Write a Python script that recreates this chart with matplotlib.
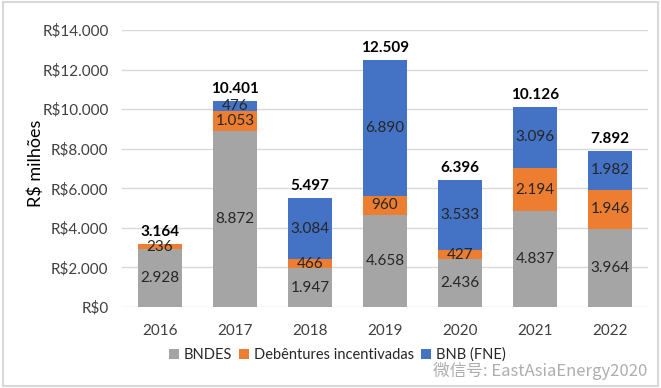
import matplotlib.pyplot as plt
from matplotlib.patches import Rectangle

anos = ["2016", "2017", "2018", "2019", "2020", "2021", "2022"]
bndes = [2928, 8872, 1947, 4658, 2436, 4837, 3964]
debentures = [236, 1053, 466, 960, 427, 2194, 1946]
bnb = [0, 476, 3084, 6890, 3533, 3096, 1982]
totais = [3164, 10401, 5497, 12509, 6396, 10126, 7892]
yticks = [0, 2000, 4000, 6000, 8000, 10000, 12000, 14000]

cinza = "#A5A5A5"
laranja = "#ED7D31"
azul = "#4472C4"

plt.rcParams["font.family"] = ["Lato", "DejaVu Sans"]


def fmt(v):
    return f"{v:,}".replace(",", ".")


fig = plt.figure(figsize=(6.61, 3.88), dpi=100)
ax = fig.add_axes([0.1853, 0.2088, 0.7943, 0.7139])

x = range(len(anos))
w = 0.58
base2 = bndes
base3 = [a + b for a, b in zip(bndes, debentures)]
b1 = ax.bar(x, bndes, w, color=cinza, label="BNDES", zorder=3)
b2 = ax.bar(x, debentures, w, bottom=base2, color=laranja,
            label="Debêntures incentivadas", zorder=3)
b3 = ax.bar(x, bnb, w, bottom=base3, color=azul, label="BNB (FNE)", zorder=3)

for i in x:
    ax.text(i, bndes[i] / 2, fmt(bndes[i]), ha="center", va="center",
            fontsize=11, color="#262626", zorder=4)
    ax.text(i, base2[i] + debentures[i] / 2, fmt(debentures[i]), ha="center",
            va="center", fontsize=11, color="#262626", zorder=4)
    if bnb[i] > 0:
        ax.text(i, base3[i] + bnb[i] / 2, fmt(bnb[i]), ha="center",
                va="center", fontsize=11, color="#262626", zorder=4)
    ax.text(i, totais[i] + 250, fmt(totais[i]), ha="center", va="bottom",
            fontsize=11, fontweight="bold", color="black", zorder=4)

ax.set_xlim(-0.5, len(anos) - 0.5)
ax.set_ylim(0, 14000)
ax.set_yticks(yticks)
ax.set_yticklabels(["R$" + fmt(v) for v in yticks])
ax.set_xticks(list(x))
ax.set_xticklabels(anos)
ax.tick_params(axis="both", length=0, labelsize=11, colors="#404040", pad=10)
ax.tick_params(axis="x", pad=12)
ax.grid(axis="y", color="#D9D9D9", linewidth=1, zorder=0)
for s in ax.spines.values():
    s.set_visible(False)
ax.set_ylabel("R$ milhões", fontsize=13, color="black")
ax.yaxis.set_label_coords(-0.15, 0.52)

fig.legend(handles=[b1, b2, b3], loc="center", bbox_to_anchor=(0.51, 0.085),
           ncol=3, frameon=False, fontsize=10.5, handlelength=0.7,
           handleheight=0.7, handletextpad=0.3, columnspacing=0.5,
           labelcolor="#262626")

# marca d'água
fig.text(0.655, 0.045, "微信号: EastAsiaEnergy2020", ha="left", va="center",
         fontsize=12, color="#9A9A9A", alpha=0.8,
         family=["Noto Sans CJK SC", "DejaVu Sans"])

fig.patches.append(Rectangle((0.004, 0.006), 0.992, 0.988, fill=False,
                             edgecolor="#D9D9D9", linewidth=1.5,
                             transform=fig.transFigure))

plt.savefig("out.png", dpi=100)
